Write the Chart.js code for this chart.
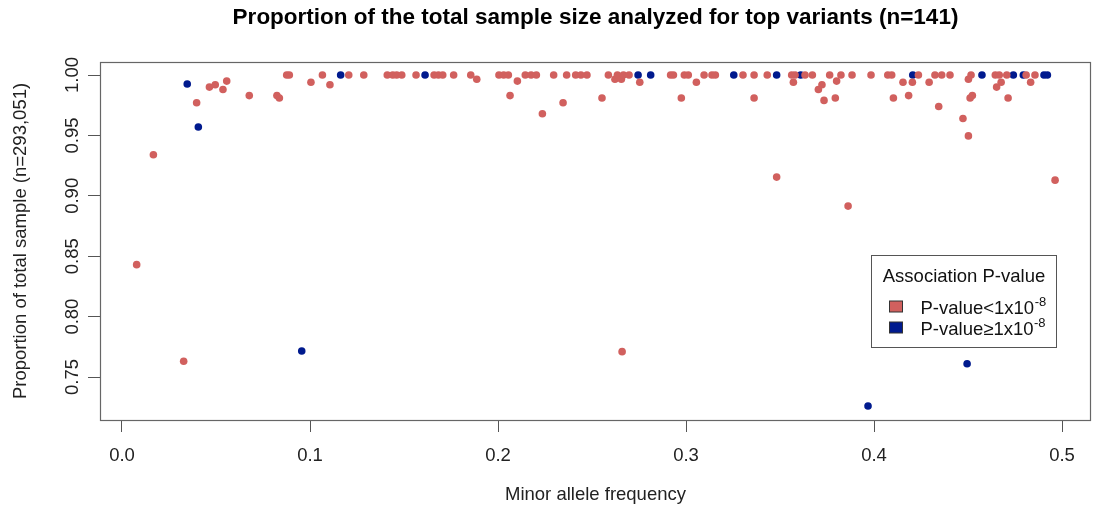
<!DOCTYPE html>
<html>
<head>
<meta charset="utf-8">
<title>Proportion of total sample</title>
<script src="https://cdn.jsdelivr.net/npm/chart.js"></script>
<style>
  html, body { margin: 0; padding: 0; background: #fff; }
  #wrap { width: 1096px; height: 512px; }
</style>
</head>
<body>
<div id="wrap"><canvas id="mafchart" width="1096" height="512"></canvas></div>
<script>
var chartTitle = 'Proportion of the total sample size analyzed for top variants (n=141)';
var xTitle = 'Minor allele frequency';
var yTitle = 'Proportion of total sample (n=293,051)';
var legendTitle = 'Association P-value';
var seriesNames = ['P-value<1x10', 'P-value\u22651x10'];
var seriesExp = ['-8', '-8'];

var xTickLabels = ['0.0', '0.1', '0.2', '0.3', '0.4', '0.5'];
var yTickLabels = ['0.75', '0.80', '0.85', '0.90', '0.95', '1.00'];

// P-value < 1x10-8
var sigX = [0.0078, 0.0167, 0.0328, 0.0397, 0.0465, 0.0496, 0.0537, 0.0557, 0.0677, 0.0824,
  0.0837, 0.0876, 0.0890, 0.1005, 0.1066, 0.1106, 0.1206, 0.1286, 0.1411, 0.1440,
  0.1461, 0.1488, 0.1564, 0.1660, 0.1683, 0.1706, 0.1764, 0.1855, 0.1887, 0.2005,
  0.2030, 0.2055, 0.2064, 0.2103, 0.2145, 0.2176, 0.2204, 0.2236, 0.2296, 0.2346,
  0.2365, 0.2413, 0.2441, 0.2473, 0.2553, 0.2587, 0.2622, 0.2635, 0.2656, 0.2660,
  0.2667, 0.2697, 0.2754, 0.2918, 0.2933, 0.2975, 0.2991, 0.3012, 0.3055, 0.3096,
  0.3138, 0.3156, 0.3303, 0.3362, 0.3362, 0.3432, 0.3482, 0.3562, 0.3571, 0.3580,
  0.3633, 0.3672, 0.3704, 0.3723, 0.3734, 0.3764, 0.3794, 0.3801, 0.3824, 0.3862,
  0.3883, 0.3984, 0.4073, 0.4094, 0.4103, 0.4154, 0.4184, 0.4204, 0.4236, 0.4293,
  0.4324, 0.4344, 0.4360, 0.4404, 0.4473, 0.4502, 0.4502, 0.4511, 0.4516, 0.4523,
  0.4645, 0.4652, 0.4666, 0.4676, 0.4706, 0.4713, 0.4809, 0.4833, 0.4856, 0.4963];
var sigY = [0.843, 0.934, 0.763, 0.977, 0.990, 0.992, 0.988, 0.995, 0.983, 0.983,
  0.981, 1.000, 1.000, 0.994, 1.000, 0.992, 1.000, 1.000, 1.000, 1.000,
  1.000, 1.000, 1.000, 1.000, 1.000, 1.000, 1.000, 1.000, 0.9965, 1.000,
  1.000, 1.000, 0.983, 0.995, 1.000, 1.000, 1.000, 0.968, 1.000, 0.977,
  1.000, 1.000, 1.000, 1.000, 0.981, 1.000, 0.9965, 1.000, 0.9965, 0.771,
  1.000, 1.000, 0.994, 1.000, 1.000, 0.981, 1.000, 1.000, 0.994, 1.000,
  1.000, 1.000, 1.000, 1.000, 0.981, 1.000, 0.9155, 1.000, 0.994, 1.000,
  1.000, 1.000, 0.988, 0.992, 0.979, 1.000, 0.981, 0.995, 1.000, 0.8915,
  1.000, 1.000, 1.000, 1.000, 0.981, 0.994, 0.983, 0.994, 1.000, 0.994,
  1.000, 0.974, 1.000, 1.000, 0.964, 0.9496, 0.9965, 0.981, 1.000, 0.983,
  1.000, 0.990, 1.000, 0.994, 1.000, 0.981, 1.000, 0.994, 1.000, 0.913];

// P-value >= 1x10-8
var nsX = [0.0347, 0.0406, 0.0956, 0.1163, 0.1612, 0.2745, 0.2812, 0.3254, 0.3482, 0.3610,
  0.3968, 0.4206, 0.4495, 0.4574, 0.4741, 0.4794, 0.4904, 0.4922];
var nsY = [0.9926, 0.957, 0.7715, 1.000, 1.000, 1.000, 1.000, 1.000, 1.000, 1.000,
  0.726, 1.000, 0.761, 1.000, 1.000, 1.000, 1.000, 1.000];

var COLORS = ['#D1605E', '#001A8E'];
var FONT = '"Liberation Sans", Arial, Helvetica, sans-serif';

function toPoints(xs, ys) {
  var pts = [];
  for (var i in xs) {
    pts.push({ x: xs[i], y: ys[i] });
  }
  return pts;
}

// frame, rotated y tick labels and the legend box
var decorations = {
  id: 'decorations',
  afterDraw: function(chart) {
    var ctx = chart.ctx;
    var area = chart.chartArea;
    var yScale = chart.scales.y;
    ctx.save();

    ctx.strokeStyle = '#666';
    ctx.lineWidth = 1.2;
    ctx.strokeRect(area.left + 0.5, area.top + 0.5, area.right - area.left - 1, area.bottom - area.top);

    ctx.fillStyle = '#222';
    ctx.font = '18.5px ' + FONT;
    ctx.textAlign = 'center';
    ctx.textBaseline = 'alphabetic';
    for (var i in yTickLabels) {
      var py = yScale.getPixelForValue(parseFloat(yTickLabels[i]));
      ctx.save();
      ctx.translate(area.left - 22.5, py);
      ctx.rotate(-Math.PI / 2);
      ctx.fillText(yTickLabels[i], 0, 0);
      ctx.restore();
    }

    var bx = area.right - 219.5, by = area.top + 193.5;
    ctx.fillStyle = '#fff';
    ctx.fillRect(bx, by, 185, 92);
    ctx.strokeStyle = '#555';
    ctx.lineWidth = 1;
    ctx.strokeRect(bx, by, 185, 92);

    ctx.fillStyle = '#111';
    ctx.textAlign = 'center';
    ctx.fillText(legendTitle, bx + 92.5, by + 26);

    var sets = chart.data.datasets;
    for (var j = 0; j < sets.length; j++) {
      var rowY = by + 56.5 + j * 21;
      ctx.fillStyle = sets[j].backgroundColor;
      ctx.fillRect(bx + 18, rowY - 11, 13, 11);
      ctx.strokeStyle = '#333';
      ctx.strokeRect(bx + 18, rowY - 11, 13, 11);

      ctx.fillStyle = '#111';
      ctx.textAlign = 'left';
      ctx.font = '18.5px ' + FONT;
      ctx.fillText(seriesNames[j], bx + 49, rowY + 2);
      var w = ctx.measureText(seriesNames[j]).width;
      ctx.font = '13px ' + FONT;
      ctx.fillText(seriesExp[j], bx + 49 + w + 0.5, rowY - 6);
    }
    ctx.restore();
  }
};

var ctx = document.getElementById('mafchart');

var scatter = new Chart(ctx, {
  type: 'scatter',
  data: {
    datasets: [
      {
        label: seriesNames[0] + seriesExp[0],
        data: toPoints(sigX, sigY),
        backgroundColor: COLORS[0],
        borderWidth: 0,
        pointRadius: 3.8,
        order: 0
      },
      {
        label: seriesNames[1] + seriesExp[1],
        data: toPoints(nsX, nsY),
        backgroundColor: COLORS[1],
        borderWidth: 0,
        pointRadius: 3.8,
        order: 1
      }
    ]
  },
  options: {
    responsive: false,
    animation: false,
    devicePixelRatio: 1,
    layout: { padding: { left: 0, right: 5, top: 0, bottom: 0 } },
    plugins: {
      legend: { display: false },
      tooltip: { enabled: false },
      title: {
        display: true,
        text: chartTitle,
        fullSize: false,
        color: '#000',
        font: { family: FONT, size: 22.5, weight: 'bold' },
        padding: { top: 4, bottom: 31 }
      }
    },
    scales: {
      x: {
        type: 'linear',
        min: -0.0117,
        max: 0.5154,
        afterFit: function(scale) { scale.height = 92; },
        border: { display: false },
        grid: { drawOnChartArea: false, drawTicks: true, tickLength: 12, color: '#555' },
        ticks: {
          stepSize: 0.1,
          includeBounds: false,
          padding: 12.5,
          color: '#222',
          font: { family: FONT, size: 18.5 },
          maxRotation: 0,
          callback: function(v) { return xTickLabels[Math.round(v * 10)]; }
        },
        title: {
          display: true,
          text: xTitle,
          color: '#222',
          font: { family: FONT, size: 18.5 },
          padding: { top: 0, bottom: 6 }
        }
      },
      y: {
        type: 'linear',
        min: 0.7144,
        max: 1.0108,
        afterFit: function(scale) { scale.width = 100; },
        border: { display: false },
        grid: { drawOnChartArea: false, drawTicks: true, tickLength: 12, color: '#555' },
        ticks: { stepSize: 0.05, includeBounds: false, display: false },
        title: {
          display: true,
          text: yTitle,
          color: '#222',
          font: { family: FONT, size: 18.5 },
          padding: { top: 9.5, bottom: 0 }
        }
      }
    }
  },
  plugins: [decorations]
});
</script>
</body>
</html>
